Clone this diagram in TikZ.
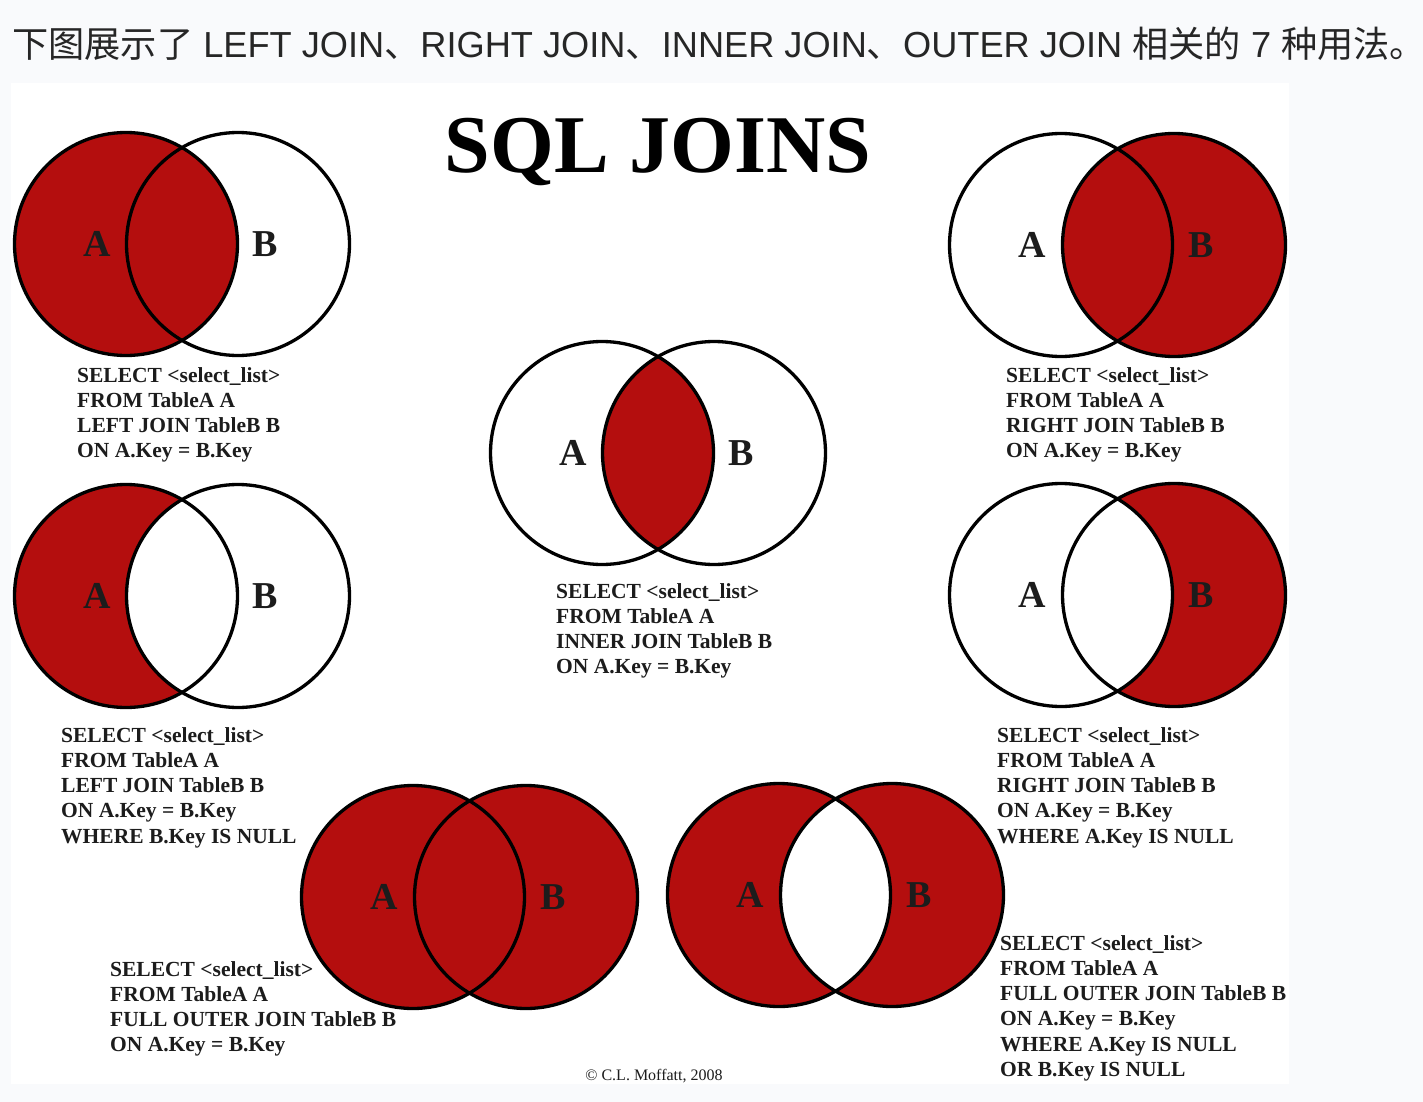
\documentclass[tikz,border=0pt]{standalone}
\usepackage{fontspec}
\setmainfont{Liberation Serif}
\newfontfamily\hdrfont{Liberation Sans}
\newfontfamily\cjk{Noto Sans CJK SC}
\usepackage{tikz}
\usetikzlibrary{positioning, backgrounds}
\definecolor{joinred}{RGB}{180,14,14}
\definecolor{pagebg}{RGB}{249,250,252}
\definecolor{inkgray}{RGB}{28,28,28}

\begin{document}
\begin{tikzpicture}[
  x=1pt, y=-1pt,
  setcirc/.style={circle, draw=black, line width=3.3pt, minimum size=223pt, inner sep=0pt},
  setlbl/.style={font=\fontsize{38}{38}\selectfont\bfseries, text=inkgray, inner sep=0pt},
  sqltext/.style={font=\fontsize{21.5}{25.25}\selectfont\bfseries, text=inkgray,
    align=left, anchor=north west, inner sep=0pt},
]
  \useasboundingbox (0,0) rectangle (1423,1102);
  \begin{scope}[on background layer]
    \fill[pagebg] (0,0) rectangle (1423,1102);
    \fill[white] (11,83) rectangle (1289,1084);
  \end{scope}

  \node[anchor=base west, inner sep=0pt, text=black!85,
    font=\hdrfont\fontsize{36.2}{36.2}\selectfont] (hdr) at (12,58)
    {{\cjk 下图展示了} LEFT JOIN{\cjk 、}RIGHT JOIN{\cjk 、}INNER JOIN{\cjk 、}OUTER JOIN {\cjk 相关的} 7 {\cjk 种用法。}};
  \node[anchor=base, inner sep=0pt, font=\fontsize{82}{82}\selectfont\bfseries] (title) at (658,172) {SQL JOINS};

  % LEFT JOIN
  \node[setcirc] (lA) at (126,244) {};
  \node[setcirc] (lB) at (238,244) {};
  \begin{scope}[on background layer]
    \fill[joinred] (lA.center) circle (111.5pt);
  \end{scope}
  \node[setlbl] (lAl) at ([xshift=-29pt]lA.center) {A};
  \node[setlbl] (lBl) at ([xshift=27pt]lB.center) {B};
  \node[sqltext] (lq) at (77,367) {SELECT <select\_list>\\FROM TableA A\\LEFT JOIN TableB B\\ON A.Key = B.Key};

  % RIGHT JOIN
  \node[setcirc] (rA) at (1061,245) {};
  \node[setcirc] (rB) at (1174,245) {};
  \begin{scope}[on background layer]
    \fill[joinred] (rB.center) circle (111.5pt);
  \end{scope}
  \node[setlbl] (rAl) at ([xshift=-29pt]rA.center) {A};
  \node[setlbl] (rBl) at ([xshift=27pt]rB.center) {B};
  \node[sqltext] (rq) at (1006,367) {SELECT <select\_list>\\FROM TableA A\\RIGHT JOIN TableB B\\ON A.Key = B.Key};

  % INNER JOIN
  \node[setcirc] (iA) at (602,453) {};
  \node[setcirc] (iB) at (714,453) {};
  \begin{scope}[on background layer]
    \begin{scope}
      \clip (iA.center) circle (111.5pt);
      \fill[joinred] (iB.center) circle (111.5pt);
    \end{scope}
  \end{scope}
  \node[setlbl] (iAl) at ([xshift=-29pt]iA.center) {A};
  \node[setlbl] (iBl) at ([xshift=27pt]iB.center) {B};
  \node[sqltext] (iq) at (556,583) {SELECT <select\_list>\\FROM TableA A\\INNER JOIN TableB B\\ON A.Key = B.Key};

  % LEFT JOIN, B.Key IS NULL
  \node[setcirc] (lnA) at (126,596) {};
  \node[setcirc] (lnB) at (238,596) {};
  \begin{scope}[on background layer]
    \fill[joinred] (lnA.center) circle (111.5pt);
    \fill[white] (lnB.center) circle (111.5pt);
  \end{scope}
  \node[setlbl] (lnAl) at ([xshift=-29pt]lnA.center) {A};
  \node[setlbl] (lnBl) at ([xshift=27pt]lnB.center) {B};
  \node[sqltext] (lnq) at (61,727) {SELECT <select\_list>\\FROM TableA A\\LEFT JOIN TableB B\\ON A.Key = B.Key\\WHERE B.Key IS NULL};

  % RIGHT JOIN, A.Key IS NULL
  \node[setcirc] (rnA) at (1061,595) {};
  \node[setcirc] (rnB) at (1174,595) {};
  \begin{scope}[on background layer]
    \fill[joinred] (rnB.center) circle (111.5pt);
    \fill[white] (rnA.center) circle (111.5pt);
  \end{scope}
  \node[setlbl] (rnAl) at ([xshift=-29pt]rnA.center) {A};
  \node[setlbl] (rnBl) at ([xshift=27pt]rnB.center) {B};
  \node[sqltext] (rnq) at (997,727) {SELECT <select\_list>\\FROM TableA A\\RIGHT JOIN TableB B\\ON A.Key = B.Key\\WHERE A.Key IS NULL};

  % FULL OUTER JOIN
  \node[setcirc] (fA) at (413,897) {};
  \node[setcirc] (fB) at (526,897) {};
  \begin{scope}[on background layer]
    \fill[joinred] (fA.center) circle (111.5pt) (fB.center) circle (111.5pt);
  \end{scope}
  \node[setlbl] (fAl) at ([xshift=-29pt]fA.center) {A};
  \node[setlbl] (fBl) at ([xshift=27pt]fB.center) {B};
  \node[sqltext] (fq) at (110,961) {SELECT <select\_list>\\FROM TableA A\\FULL OUTER JOIN TableB B\\ON A.Key = B.Key};

  % FULL OUTER JOIN, either key IS NULL
  \node[setcirc] (fxA) at (779,895) {};
  \node[setcirc] (fxB) at (892,895) {};
  \begin{scope}[on background layer]
    \fill[joinred, even odd rule] (fxA.center) circle (111.5pt) (fxB.center) circle (111.5pt);
  \end{scope}
  \node[setlbl] (fxAl) at ([xshift=-29pt]fxA.center) {A};
  \node[setlbl] (fxBl) at ([xshift=27pt]fxB.center) {B};
  \node[sqltext] (fxq) at (1000,935) {SELECT <select\_list>\\FROM TableA A\\FULL OUTER JOIN TableB B\\ON A.Key = B.Key\\WHERE A.Key IS NULL\\OR B.Key IS NULL};

  \node[font=\fontsize{16}{16}\selectfont, text=inkgray, inner sep=0pt] (copy) at (654,1076) {© C.L. Moffatt, 2008};
\end{tikzpicture}
\end{document}
